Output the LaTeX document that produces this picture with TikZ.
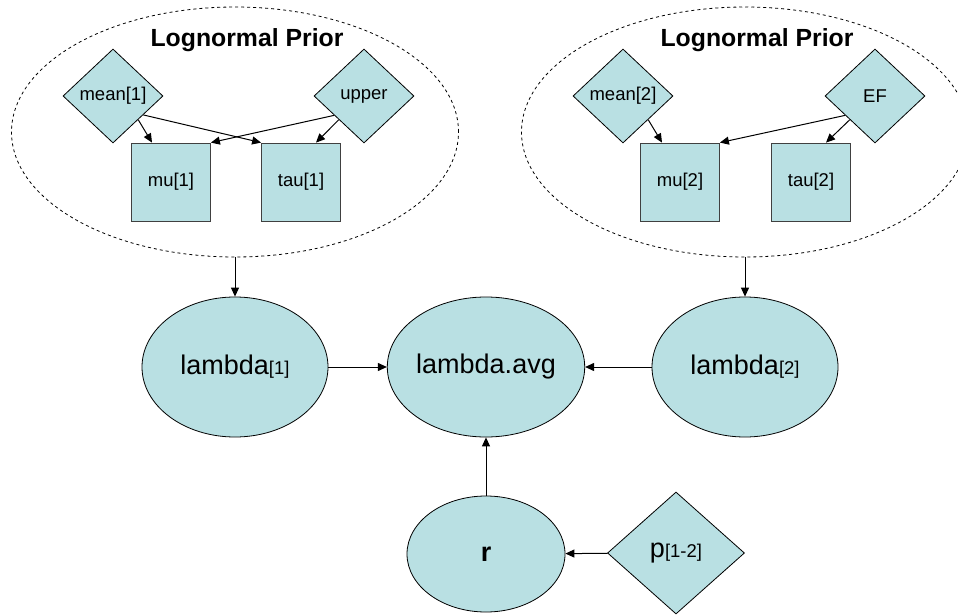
\documentclass[tikz,border=0pt]{standalone}
\usepackage{fontspec}
\setmainfont{Liberation Sans}
\usetikzlibrary{shapes.geometric,arrows.meta}
\definecolor{nodefill}{RGB}{185,224,227}
\newcommand{\smallfont}{\fontsize{18.5}{22}\selectfont}
\newcommand{\bigfont}{\fontsize{27}{32}\selectfont}
\newcommand{\subfont}{\fontsize{18.5}{22}\selectfont}
\begin{document}
\begin{tikzpicture}[x=1pt, y=-1pt,
			every node/.style={fill=nodefill, draw, line width=0.8pt, inner sep=0pt},
			param/.style={diamond, minimum width=100, minimum height=94, font=\smallfont},
			logical/.style={rectangle, draw=black!75, minimum width=79, minimum height=78, font=\smallfont},
			stoch/.style={ellipse, minimum width=186, minimum height=140, font=\bigfont},
			prior/.style={ellipse, dashed, fill=none, minimum width=447, minimum height=250},
			title/.style={draw=none, fill=none, anchor=base, font=\fontsize{24.8}{28}\selectfont\bfseries},
			edge/.style={-{Triangle[width=8pt,length=9pt]}, line width=1pt}]

		\useasboundingbox (0,0) rectangle (958,615);

		% prior groups
		\node[prior] (prior1) at (235,132) {};
		\node[prior] (prior2) at (745,132) {};
		\node[title] (title1) at (247,47) {Lognormal Prior};
		\node[title] (title2) at (757,47) {Lognormal Prior};

		\node[param] (mean1) at (113,96) {mean[1]};
		\node[param] (upper) at (364,96) {upper};
		\node[logical] (mu1) at (171,182) {mu[1]};
		\node[logical] (tau1) at (301,182) {tau[1]};

		\node[param] (mean2) at (623,96) {mean[2]};
		\node[param] (ef) at (875,96) {EF};
		\node[logical] (mu2) at (680,182) {mu[2]};
		\node[logical] (tau2) at (811,182) {tau[2]};

		% lower part
		\node[stoch] (lam1) at (235,367) {lambda{\subfont[1]}};
		\node[stoch] (lamavg) at (486,367) {lambda.avg};
		\node[stoch] (lam2) at (745,367) {lambda{\subfont[2]}};
		\node[stoch, minimum width=158, minimum height=116, font=\bigfont\bfseries] (r) at (486,554) {r};
		\node[param, minimum width=137, minimum height=122, font=\bigfont] (p) at (676,553) {p{\subfont[1-2]}};

		\draw[edge] (mean1.south east) -- ([xshift=-19pt]mu1.north);
		\draw[edge] (mean1.-32) -- (tau1.north west);
		\draw[edge] (upper.213) -- (mu1.north east);
		\draw[edge] (upper.south west) -- ([xshift=15pt]tau1.north);

		\draw[edge] (mean2.south east) -- ([xshift=-18pt]mu2.north);
		\draw[edge] (ef.213) -- (mu2.north east);
		\draw[edge] (ef.south west) -- ([xshift=15pt]tau2.north);

		\draw[edge] (prior1.south) -- (lam1);
		\draw[edge] (prior2.south) -- (lam2);
		\draw[edge] (lam1) -- (lamavg);
		\draw[edge] (lam2) -- (lamavg);
		\draw[edge] (r) -- (lamavg);
		\draw[edge] (p) -- (r);
	\end{tikzpicture}
\end{document}
